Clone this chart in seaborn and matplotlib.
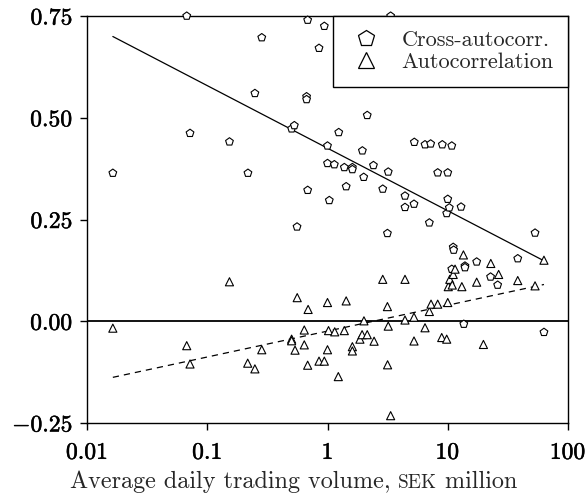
import numpy as np
import pandas as pd
import matplotlib
matplotlib.use("Agg")
import matplotlib.pyplot as plt
import matplotlib.patheffects as pe
from matplotlib.lines import Line2D
from matplotlib.ticker import NullLocator
import seaborn as sns

# ---------------- data ----------------
cross_x = [0.0164, 0.0675, 0.0719, 0.153, 0.218, 0.249, 0.284, 0.503, 0.530, 0.558,
           0.67, 0.67, 0.684, 0.684, 0.850, 0.941, 1.00, 1.00, 1.035, 1.14,
           1.24, 1.38, 1.43, 1.61, 1.61, 1.95, 2.00, 2.14, 2.41, 2.88,
           3.15, 3.20, 3.35, 4.41, 4.41, 5.24, 5.27, 6.47, 7.03, 7.21,
           8.25, 9.01, 9.8, 10.0, 10.0, 10.3, 10.8, 11.1, 11.2, 10.8,
           12.9, 13.6, 13.9, 13.9, 17.4, 22.7, 26.0, 38.2, 53.2, 63.1]
cross_y = [0.364, 0.750, 0.462, 0.441, 0.364, 0.560, 0.697, 0.473, 0.481, 0.232,
           0.552, 0.545, 0.740, 0.322, 0.671, 0.725, 0.431, 0.388, 0.297, 0.385,
           0.464, 0.378, 0.331, 0.378, 0.373, 0.419, 0.354, 0.506, 0.383, 0.325,
           0.216, 0.367, 0.750, 0.308, 0.280, 0.288, 0.440, 0.434, 0.242, 0.436,
           0.365, 0.434, 0.265, 0.365, 0.300, 0.279, 0.431, 0.182, 0.175, 0.128,
           0.281, -0.007, 0.136, 0.132, 0.146, 0.109, 0.089, 0.154, 0.217, -0.027]

auto_x = [0.0164, 0.0675, 0.0719, 0.153, 0.217, 0.249, 0.284, 0.503, 0.503, 0.537,
          0.56, 0.641, 0.641, 0.684, 0.69, 0.85, 0.941, 1.0, 1.0, 1.02,
          1.148, 1.23, 1.38, 1.43, 1.61, 1.61, 1.86, 1.94, 2.01, 2.14,
          2.44, 2.88, 3.15, 3.16, 3.2, 3.35, 4.41, 4.41, 5.24, 5.24,
          6.47, 7.03, 7.26, 8.25, 8.91, 9.8, 10.0, 10.1, 10.4, 10.9,
          11.1, 11.5, 13.1, 13.5, 17.4, 19.8, 22.8, 26.5, 38.2, 53.2, 63.1]
auto_y = [-0.017, -0.060, -0.105, 0.097, -0.103, -0.117, -0.070, -0.044, -0.048, -0.071,
          0.058, -0.0215, -0.058, -0.108, 0.029, -0.098, -0.098, 0.046, -0.070, -0.023,
          -0.026, -0.136, -0.023, 0.050, -0.0625, -0.073, -0.044, -0.033, 0.001, -0.033,
          -0.049, 0.103, 0.036, -0.107, -0.012, -0.232, 0.103, 0.003, 0.010, -0.0485,
          -0.016, 0.024, 0.042, 0.042, -0.040, -0.044, 0.046, 0.085, 0.103, 0.089,
          0.115, 0.128, 0.085, 0.163, 0.096, -0.057, 0.142, 0.115, 0.100, 0.087, 0.150]

series_names = ["Cross-autocorr.", "Autocorrelation"]
xticks = [0.01, 0.1, 1, 10, 100]
xtick_labels = ["0.01", "0.1", "1", "10", "100"]
yticks = [-0.25, 0.0, 0.25, 0.50, 0.75]
xlabel_parts = ["Average daily trading volume, ", "SEK", " million"]

# ---------------- style ----------------
sns.set_style("ticks")
plt.rcParams["font.family"] = ["cmr10", "DejaVu Serif"]
plt.rcParams["mathtext.fontset"] = "cm"
plt.rcParams["axes.unicode_minus"] = False

df = pd.concat([
    pd.DataFrame({"volume": cross_x, "value": cross_y, "series": series_names[0]}),
    pd.DataFrame({"volume": auto_x, "value": auto_y, "series": series_names[1]}),
], ignore_index=True)

fig, ax = plt.subplots(figsize=(5.87, 4.96), dpi=100)
fig.subplots_adjust(left=87 / 587, right=568 / 587, top=1 - 16 / 496, bottom=1 - 423 / 496)
ax.set_xscale("log")

ax.axhline(0, color="black", lw=1.3, zorder=1)

sns.scatterplot(data=df, x="volume", y="value", style="series",
                markers={series_names[0]: "p", series_names[1]: "^"},
                color="white", edgecolor="black", linewidth=0.8, s=34,
                legend=False, ax=ax, clip_on=False, zorder=3)

sns.regplot(data=df[df.series == series_names[0]], x="volume", y="value",
            logx=True, scatter=False, ci=None, color="black",
            line_kws=dict(lw=0.9, ls="-"), ax=ax)
sns.regplot(data=df[df.series == series_names[1]], x="volume", y="value",
            logx=True, scatter=False, ci=None, color="black",
            line_kws=dict(lw=0.9, ls=(0, (5, 4))), ax=ax)

ax.set_xlim(0.01, 100)
ax.set_ylim(-0.25, 0.75)
ax.set_xticks(xticks, labels=[r"$\mathbf{%s}$" % t for t in xtick_labels])
ax.set_yticks(yticks, labels=[r"$\mathbf{%s}$" % ("%.2f" % v) for v in yticks])
ax.xaxis.set_minor_locator(NullLocator())
ax.tick_params(direction="out", length=5, width=1, labelsize=17, colors="black")
ax.tick_params(axis="x", pad=8.5)
ax.tick_params(axis="y", pad=5)
for lab in ax.get_xticklabels() + ax.get_yticklabels():
    lab.set_path_effects([pe.withStroke(linewidth=0.35, foreground="black")])
ax.set_xlabel("")
ax.set_ylabel("")
for sp in ax.spines.values():
    sp.set_color("black")
    sp.set_linewidth(1)

handles = [
    Line2D([], [], marker="p", ls="none", mfc="white", mec="black", mew=0.9, ms=12),
    Line2D([], [], marker="^", ls="none", mfc="white", mec="black", mew=0.9, ms=11),
]
leg = ax.legend(handles, series_names, loc="upper right", borderaxespad=0,
                fancybox=False, framealpha=1, edgecolor="black", fontsize=16,
                borderpad=0.65, labelspacing=0.12, handlelength=1.7,
                handletextpad=0.75)
leg.get_frame().set_linewidth(1)

# x label with small caps "SEK", centred on the figure
fig.canvas.draw()
renderer = fig.canvas.get_renderer()
sizes = [17.4, 13.9, 17.4]
texts = []
widths = []
for part, sz in zip(xlabel_parts, sizes):
    t = fig.text(0, 0, part, fontsize=sz, ha="left", va="baseline")
    texts.append(t)
    widths.append(t.get_window_extent(renderer).width)
total = sum(widths)
fig_w = fig.get_figwidth() * fig.dpi
x0 = (fig_w - total) / 2
base_y = 1 - 488 / 496
for t, w in zip(texts, widths):
    t.set_position((x0 / fig_w, base_y))
    x0 += w

fig.savefig("out.png", dpi=100)
